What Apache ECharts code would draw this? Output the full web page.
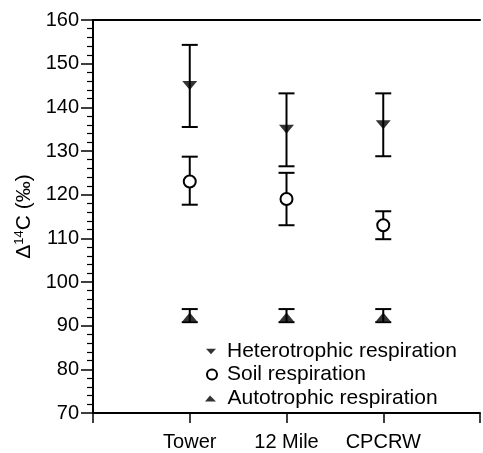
<!DOCTYPE html>
<html>
<head>
<meta charset="utf-8">
<script src="https://cdn.jsdelivr.net/npm/echarts@6/dist/echarts.min.js"></script>
<style>
html,body{margin:0;padding:0;background:#fff;}
#chart{width:483px;height:453px;}
</style>
</head>
<body>
<div id="chart"></div>
<script>
const sites = ["Tower", "12 Mile", "CPCRW"];
const yTicks = [70, 80, 90, 100, 110, 120, 130, 140, 150, 160];

const heteroMean = [145, 135, 136];
const heteroLow = [135.5, 126.5, 128.8];
const heteroHigh = [154.3, 143.2, 143.2];

const soilMean = [123, 119, 113];
const soilLow = [117.7, 113, 109.8];
const soilHigh = [128.7, 125, 116.2];

const autoMean = [92, 92, 92];
const autoLow = [90.8, 90.8, 90.8];
const autoHigh = [93.8, 93.8, 93.8];

const FONT = "Liberation Sans";

function pts(means) { return sites.map((s, i) => [i + 1, means[i]]); }
function errs(lo, hi) { return sites.map((s, i) => [i + 1, lo[i], hi[i]]); }

function errRender(params, api) {
  const x = api.value(0);
  const p1 = api.coord([x, api.value(1)]);
  const p2 = api.coord([x, api.value(2)]);
  const hw = 8;
  const st = { stroke: '#000', lineWidth: 2 };
  return {
    type: 'group',
    children: [
      { type: 'line', shape: { x1: p1[0], y1: p1[1], x2: p2[0], y2: p2[1] }, style: st },
      { type: 'line', shape: { x1: p1[0] - hw, y1: p1[1], x2: p1[0] + hw, y2: p1[1] }, style: st },
      { type: 'line', shape: { x1: p2[0] - hw, y1: p2[1], x2: p2[0] + hw, y2: p2[1] }, style: st }
    ]
  };
}

const chart = echarts.init(document.getElementById('chart'), null, { renderer: 'canvas' });

const legendText = { fontFamily: FONT, fontSize: 21, color: '#000', lineHeight: 20 };

chart.setOption({
  animation: false,
  backgroundColor: '#fff',
  textStyle: { fontFamily: FONT },
  grid: { left: 93, right: -4, top: 20, bottom: 40, containLabel: false },
  legend: [
    { data: [{ name: 'Heterotrophic respiration', icon: 'path://M0,0L10,0L5,5.5Z' }], left: 206, top: 341, padding: 0,
      itemWidth: 10, itemHeight: 6, textStyle: Object.assign({ padding: [0, 0, 0, 6] }, legendText) },
    { data: ['Soil respiration'], left: 206, top: 364, padding: 0,
      itemWidth: 10, itemHeight: 10, textStyle: Object.assign({ padding: [0, 0, 0, 5] }, legendText) },
    { data: [{ name: 'Autotrophic respiration', icon: 'path://M5,0L11,6L0,6Z' }], left: 205, top: 388, padding: 0,
      itemWidth: 12, itemHeight: 6, textStyle: Object.assign({ padding: [0, 0, 0, 6] }, legendText) }
  ],
  xAxis: [
    {
      type: 'value', min: 0, max: 4, interval: 1, position: 'bottom',
      axisLine: { show: true, onZero: false, lineStyle: { color: '#000', width: 2 } },
      axisTick: { show: true, inside: false, length: 10, lineStyle: { color: '#000', width: 1.5 } },
      axisLabel: {
        show: true, margin: 19, color: '#000', fontSize: 20, fontFamily: FONT,
        formatter: v => (v >= 1 && v <= sites.length) ? sites[v - 1] : ''
      },
      splitLine: { show: false }
    },
    {
      type: 'value', min: 0, max: 4, position: 'top',
      axisLine: { show: true, onZero: false, lineStyle: { color: '#000', width: 2 } },
      axisTick: { show: false }, axisLabel: { show: false }, splitLine: { show: false }
    }
  ],
  yAxis: {
    type: 'value', min: yTicks[0], max: yTicks[yTicks.length - 1], interval: 10,
    axisLine: { show: true, onZero: false, lineStyle: { color: '#000', width: 2 } },
    axisTick: { show: true, inside: false, length: 12, lineStyle: { color: '#000', width: 1.5 } },
    minorTick: { show: true, splitNumber: 5, length: 6, lineStyle: { color: '#000', width: 1.2 } },
    axisLabel: { margin: 14, color: '#000', fontSize: 20, fontFamily: FONT },
    splitLine: { show: false },
    name: '{a|Δ}{s|14}{a|C (‰)}',
    nameLocation: 'middle', nameGap: 56, nameRotate: 90,
    nameTextStyle: {
      rich: {
        a: { fontFamily: FONT, fontSize: 21, color: '#000', lineHeight: 22 },
        s: { fontFamily: FONT, fontSize: 13, color: '#000', verticalAlign: 'top', lineHeight: 12 }
      }
    }
  },
  series: [
    { type: 'custom', name: 'errH', renderItem: errRender, data: errs(heteroLow, heteroHigh), z: 1, silent: true },
    { type: 'custom', name: 'errS', renderItem: errRender, data: errs(soilLow, soilHigh), z: 1, silent: true },
    { type: 'custom', name: 'errA', renderItem: errRender, data: errs(autoLow, autoHigh), z: 1, silent: true },
    {
      type: 'scatter', name: 'Heterotrophic respiration', data: pts(heteroMean),
      symbol: 'triangle', symbolRotate: 180, symbolSize: [15, 9],
      itemStyle: { color: '#000' }, z: 3
    },
    {
      type: 'scatter', name: 'Soil respiration', data: pts(soilMean),
      symbol: 'circle', symbolSize: 12,
      itemStyle: { color: '#fff', borderColor: '#000', borderWidth: 2, opacity: 1 }, z: 3
    },
    {
      type: 'scatter', name: 'Autotrophic respiration', data: pts(autoMean),
      symbol: 'triangle', symbolSize: [15, 9],
      itemStyle: { color: '#000' }, z: 3
    }
  ]
});
</script>
</body>
</html>
